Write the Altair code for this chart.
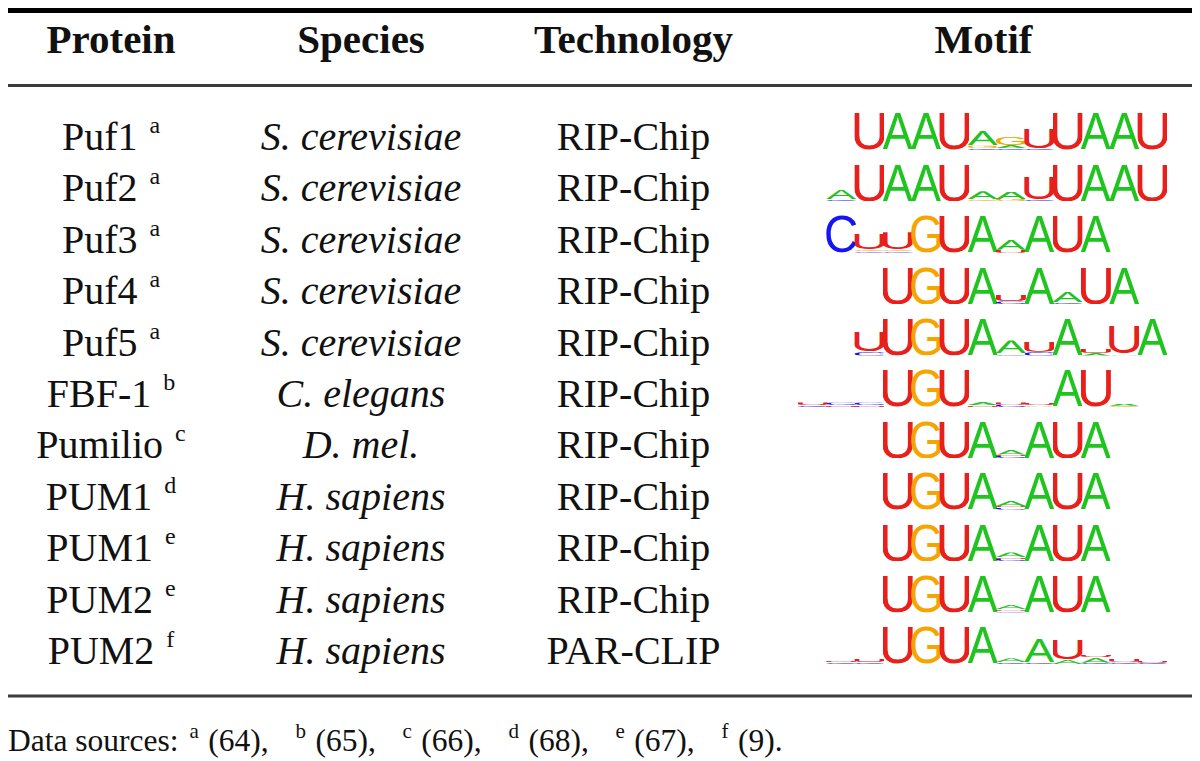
import altair as alt
import pandas as pd
from urllib.parse import quote

# ---------------- data ----------------
HEADERS = ["Protein", "Species", "Technology", "Motif"]
PROTEINS = ["Puf1", "Puf2", "Puf3", "Puf4", "Puf5", "FBF-1", "Pumilio",
            "PUM1", "PUM1", "PUM2", "PUM2"]
SOURCES = ["a", "a", "a", "a", "a", "b", "c", "d", "e", "e", "f"]
SPECIES = ["S. cerevisiae"] * 5 + ["C. elegans", "D. mel."] + ["H. sapiens"] * 4
TECH = ["RIP-Chip"] * 10 + ["PAR-CLIP"]
FOOTER_LEAD = "Data sources:"
FOOTER_SUPS = ["a", "b", "c", "d", "e", "f"]
FOOTER_REFS = ["(64),", "(65),", "(66),", "(68),", "(67),", "(9)."]

# sequence logos: first motif position of each row, then stacks (bottom -> top)
MOTIF_START = [1, 0, 0, 2, 1, -1, 2, 2, 2, 2, 0]
F = 1.0
MOTIFS = [
    # Puf1
    [[("U", F)], [("A", F)], [("A", F)], [("U", F)],
     [("C", .04), ("G", .08), ("A", .38)],
     [("C", .05), ("A", .08), ("G", .22)],
     [("C", .05), ("U", .55)],
     [("U", F)], [("A", F)], [("A", F)], [("U", F)]],
    # Puf2
    [[("C", .05), ("A", .25)],
     [("U", F)], [("A", F)], [("A", F)], [("U", F)],
     [("G", .05), ("A", .22)],
     [("G", .06), ("A", .2)],
     [("C", .05), ("U", .6)],
     [("U", F)], [("A", F)], [("A", F)], [("U", F)]],
    # Puf3
    [[("C", F)],
     [("C", .04), ("G", .05), ("U", .42)],
     [("C", .04), ("G", .05), ("U", .45)],
     [("G", F)], [("U", F)], [("A", F)],
     [("U", .08), ("A", .3)],
     [("A", F)], [("U", F)], [("A", F)]],
    # Puf4
    [[("U", F)], [("G", F)], [("U", F)], [("A", F)],
     [("C", .08), ("U", .16)],
     [("A", F)],
     [("C", .05), ("A", .3)],
     [("U", F)], [("A", F)]],
    # Puf5
    [[("C", .1), ("U", .55)],
     [("U", F)], [("G", F)], [("U", F)], [("A", F)],
     [("C", .05), ("A", .35)],
     [("C", .1), ("U", .3)],
     [("A", F)],
     [("A", .07), ("U", .12)],
     [("A", .05), ("U", .75)],
     [("A", F)]],
    # FBF-1
    [[("C", .05), ("U", .07)],
     [("U", .04), ("C", .08)],
     [("U", .04), ("C", .08)],
     [("U", F)], [("G", F)], [("U", F)],
     [("U", .05), ("A", .08)],
     [("C", .06), ("U", .06)],
     [("A", .04), ("U", .07)],
     [("A", F)], [("U", F)],
     [("G", .03), ("A", .06)]],
    # Pumilio
    [[("U", F)], [("G", F)], [("U", F)], [("A", F)],
     [("C", .06), ("U", .04), ("A", .14)],
     [("A", F)], [("U", F)], [("A", F)]],
    # PUM1 d
    [[("U", F)], [("G", F)], [("U", F)], [("A", F)],
     [("C", .06), ("U", .04), ("A", .13)],
     [("A", F)], [("U", F)], [("A", F)]],
    # PUM1 e
    [[("U", F)], [("G", F)], [("U", F)], [("A", F)],
     [("C", .06), ("U", .04), ("A", .13)],
     [("A", F)], [("U", F)], [("A", F)]],
    # PUM2 e
    [[("U", F)], [("G", F)], [("U", F)], [("A", F)],
     [("C", .05), ("U", .03), ("A", .12)],
     [("A", F)], [("U", F)], [("A", F)]],
    # PUM2 f
    [[("C", .04), ("U", .05)],
     [("C", .04), ("U", .1)],
     [("U", F)], [("G", F)], [("U", F)], [("A", F)],
     [("C", .05), ("A", .1)],
     [("C", .05), ("A", .66)],
     [("A", .12), ("U", .55)],
     [("C", .03), ("A", .14), ("U", .07)],
     [("C", .03), ("A", .03), ("U", .07)],
     [("C", .03), ("U", .06)]],
]

# ---------------- styling / layout ----------------
LETTER_COLOR = {"A": "#1fc41f", "C": "#1414f5", "G": "#f5a500", "U": "#e8201c"}
GLYPH_BOX = {"A": (0.0, 66.8), "C": (4.9, 62.7), "G": (4.8, 67.4), "U": (7.9, 56.4)}
W, H = 1184, 753
ROW_PITCH = 51.4
ROW0_BASE = 142.0
Y_DOM = [-ROW0_BASE / ROW_PITCH, (H - ROW0_BASE) / ROW_PITCH]
CELL = 28.3
LOGO_X0 = 819.0
X_LOGO_DOM = [-LOGO_X0 / CELL, (W - LOGO_X0) / CELL]
LETTER_H = 38.0 / ROW_PITCH
SERIF = "Liberation Serif"
FS, SUP_FS, HEAD_FS = 40, 24, 41
FOOT_FS, FOOT_SUP_FS = 31.5, 21
COL_X = [103, 353, 625.5, 975.5]

TIMES = {' ': 250, '(': 333, ')': 333, ',': 250, '.': 250, ':': 278, '-': 333,
         'a': 444, 'b': 500, 'c': 444, 'd': 500, 'e': 444, 'f': 333, 'i': 278,
         'l': 278, 'm': 778, 'n': 500, 'o': 500, 'r': 333, 's': 389, 't': 278,
         'u': 500, 'B': 667, 'D': 722, 'F': 556, 'M': 889, 'P': 556, 'U': 722}
for d in "0123456789":
    TIMES[d] = 500


def tw(s, size):
    return sum(TIMES.get(c, 500) for c in s) / 1000.0 * size


def glyph_url(letter):
    x0, w = GLYPH_BOX[letter]
    svg = ('<svg xmlns="http://www.w3.org/2000/svg" width="%g" height="74" '
           'viewBox="%g -72.8 %g 74" preserveAspectRatio="none">'
           '<text x="0" y="0" font-family="Liberation Sans, Arial, sans-serif" '
           'font-size="100" fill="%s">%s</text></svg>'
           % (w, x0, w, LETTER_COLOR[letter], letter))
    return "data:image/svg+xml;charset=utf-8," + quote(svg, safe="")


ys = alt.Scale(domain=Y_DOM, reverse=True, nice=False, zero=False)
xs = alt.Scale(domain=[0, W], nice=False, zero=False)
xls = alt.Scale(domain=X_LOGO_DOM, nice=False, zero=False)

# ---------------- tables ----------------
head_df = pd.DataFrame({"x": COL_X, "r": [-1.887] * 4, "t": HEADERS})

main_x, sup_x = [], []
for p, s in zip(PROTEINS, SOURCES):
    wm, gap, ws = tw(p, FS), 0.3 * FS, tw(s, SUP_FS)
    left = COL_X[0] - (wm + gap + ws) / 2
    main_x.append(left)
    sup_x.append(left + wm + gap)
rows = list(range(len(PROTEINS)))
prot_df = pd.DataFrame({"x": main_x, "r": rows, "t": PROTEINS})
sup_df = pd.DataFrame({"x": sup_x, "r": [r - 17 / ROW_PITCH for r in rows], "t": SOURCES})
spec_df = pd.DataFrame({"x": [COL_X[1]] * len(rows), "r": rows, "t": SPECIES})
tech_df = pd.DataFrame({"x": [COL_X[2]] * len(rows), "r": rows, "t": TECH})

# footer
foot_r = (743 - ROW0_BASE) / ROW_PITCH
fx, ft, fsup = [0.0], [FOOTER_LEAD], [False]
cur = tw(FOOTER_LEAD, FOOT_FS)
for i, (s, ref) in enumerate(zip(FOOTER_SUPS, FOOTER_REFS)):
    cur += (0.35 if i == 0 else 0.85) * FOOT_FS
    fx.append(cur); ft.append(s); fsup.append(True)
    cur += tw(s, FOOT_SUP_FS) + 0.3 * FOOT_FS
    fx.append(cur); ft.append(ref); fsup.append(False)
    cur += tw(ref, FOOT_FS)
foot_df = pd.DataFrame({"x": fx, "t": ft, "sup": fsup})
foot_df["r"] = [foot_r - (13 / ROW_PITCH if s else 0) for s in fsup]

rule_df = pd.DataFrame({
    "r": [(2.5 - ROW0_BASE) / ROW_PITCH, (77.5 - ROW0_BASE) / ROW_PITCH,
          (688 - ROW0_BASE) / ROW_PITCH],
    "w": [5, 3, 3],
    "c": ["#000000", "#3c3c3c", "#3c3c3c"],
})

# logos
recs = []
for ri, (start, stacks) in enumerate(zip(MOTIF_START, MOTIFS)):
    for k, stack in enumerate(stacks):
        p = start + k
        cum = 0.0
        for letter, h in stack:
            recs.append({"row": ri, "p0": p - 0.03, "p1": p + 1.03,
                         "yb": ri - cum * LETTER_H, "yt": ri - (cum + h) * LETTER_H,
                         "url": glyph_url(letter)})
            cum += h
logo_df = pd.DataFrame(recs)

# ---------------- chart ----------------
def text_layer(df, align, size, weight="normal", style="normal"):
    return alt.Chart(df).mark_text(
        align=align, baseline="alphabetic", font=SERIF, fontSize=size,
        fontWeight=weight, fontStyle=style, color="#111111"
    ).encode(
        x=alt.X("x:Q", scale=xs, axis=None),
        y=alt.Y("r:Q", scale=ys, axis=None),
        text="t:N",
    )


rules = alt.Chart(rule_df).mark_rule().encode(
    x=alt.value(0), x2=alt.value(W),
    y=alt.Y("r:Q", scale=ys, axis=None),
    strokeWidth=alt.StrokeWidth("w:Q", scale=None, legend=None),
    color=alt.Color("c:N", scale=None, legend=None),
)

logos = alt.Chart(logo_df).mark_image(aspect=False).encode(
    x=alt.X("p0:Q", scale=xls, axis=None), x2="p1:Q",
    y=alt.Y("yb:Q", scale=ys, axis=None), y2="yt:Q",
    url="url:N",
)

chart = alt.layer(
    rules,
    text_layer(head_df, "center", HEAD_FS, weight="bold"),
    text_layer(prot_df, "left", FS),
    text_layer(sup_df, "left", SUP_FS),
    text_layer(spec_df, "center", FS, style="italic"),
    text_layer(tech_df, "center", FS),
    text_layer(foot_df[~foot_df["sup"]], "left", FOOT_FS),
    text_layer(foot_df[foot_df["sup"]], "left", FOOT_SUP_FS),
    logos,
).resolve_scale(x="independent").properties(
    width=W, height=H, autosize=alt.AutoSizeParams(type="none"), padding=0,
    background="white",
).configure_view(stroke=None)

chart.save("out.html", embed_options={"renderer": "svg", "actions": False})
